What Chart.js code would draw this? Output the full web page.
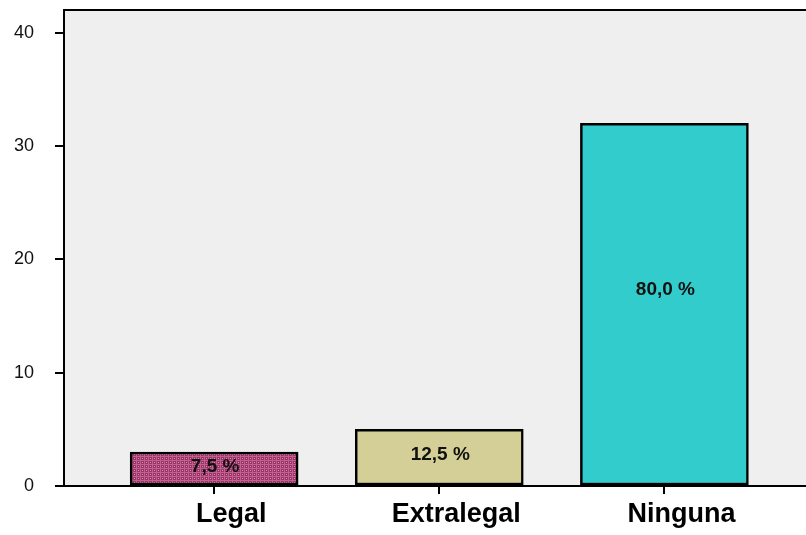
<!DOCTYPE html>
<html>
<head>
<meta charset="utf-8">
<script src="https://cdn.jsdelivr.net/npm/chart.js@4"></script>
<style>
  html, body { margin: 0; padding: 0; background: #ffffff; }
  #chart { display: block; }
</style>
</head>
<body>
<canvas id="chart" width="806" height="535"></canvas>
<script>
// Chart data
const categories = ['Legal', 'Extralegal', 'Ninguna'];
const counts = [3, 5, 32];
const percentLabels = ['7,5 %', '12,5 %', '80,0 %'];
const yTicks = [0, 10, 20, 30, 40];

// Legal bar uses a small checked pattern
function makePattern() {
    const c = document.createElement('canvas');
    c.width = 4;
    c.height = 4;
    const g = c.getContext('2d');
    g.fillStyle = '#9a3468';
    g.fillRect(0, 0, 4, 4);
    g.fillStyle = '#c0608f';
    g.fillRect(0, 0, 4, 1);
    g.fillRect(0, 0, 1, 4);
    g.fillStyle = '#d890b4';
    g.fillRect(2, 2, 1, 1);
    return g.createPattern(c, 'repeat');
}

const barColors = [makePattern(), '#d3cf96', '#33cccc'];

// Plot background and top frame line
const plotFrame = {
    id: 'plotFrame',
    beforeDraw(chart) {
        const { ctx, chartArea: a } = chart;
        ctx.save();
        ctx.fillStyle = '#efefef';
        ctx.fillRect(a.left, a.top, a.right - a.left, a.bottom - a.top);
        ctx.strokeStyle = '#000';
        ctx.lineWidth = 2;
        ctx.beginPath();
        ctx.moveTo(a.left - 1, a.top);
        ctx.lineTo(a.right, a.top);
        ctx.stroke();
        ctx.restore();
    }
};

// Percentage text inside each bar
const barText = {
    id: 'barText',
    afterDatasetsDraw(chart) {
        const { ctx } = chart;
        const meta = chart.getDatasetMeta(0);
        ctx.save();
        ctx.font = 'bold 19px "Liberation Sans", Arial, sans-serif';
        ctx.fillStyle = '#111';
        ctx.textAlign = 'center';
        ctx.textBaseline = 'middle';
        meta.data.forEach((bar, i) => {
            const y = bar.base - (bar.base - bar.y) * 0.54;
            ctx.fillText(percentLabels[i], bar.x + 1, y);
        });
        ctx.restore();
    }
};

// no automatic label padding around the axes
function noPad(s) {
    s.paddingTop = 0;
    s.paddingBottom = 0;
    s.paddingLeft = 0;
    s.paddingRight = 0;
}

const ctx = document.getElementById('chart').getContext('2d');

new Chart(ctx, {
    type: 'bar',
    data: {
        datasets: [{
            data: counts.map((c, i) => ({ x: i + 1, y: c })),
            backgroundColor: barColors,
            borderColor: '#000',
            borderWidth: 2.5,
            borderSkipped: false,
            barThickness: 168
        }]
    },
    options: {
        responsive: false,
        animation: false,
        devicePixelRatio: 1,
        layout: { autoPadding: false, padding: { top: 10, right: 0, left: 0, bottom: 0 } },
        plugins: {
            legend: { display: false },
            tooltip: { enabled: false }
        },
        scales: {
            x: {
                type: 'linear',
                offset: false,
                min: 0.333,
                max: 3.629,
                afterBuildTicks: (s) => { s.ticks = categories.map((c, i) => ({ value: i + 1 })); },
                afterFit: (s) => { s.height = 49; noPad(s); },
                grid: {
                    offset: false,
                    drawOnChartArea: false,
                    drawTicks: true,
                    tickLength: 8,
                    color: '#000',
                    lineWidth: 2
                },
                border: { display: true, color: '#000', width: 2 },
                ticks: {
                    autoSkip: false,
                    maxRotation: 0,
                    padding: 4,
                    labelOffset: 17,
                    color: '#000',
                    font: { family: '"Liberation Sans", Arial, sans-serif', size: 27, weight: 'bold' },
                    callback: (v) => categories[v - 1]
                }
            },
            y: {
                min: 0,
                max: 42,
                afterBuildTicks: (s) => { s.ticks = yTicks.map(v => ({ value: v })); },
                afterFit: (s) => { s.width = 64; noPad(s); },
                grid: {
                    drawOnChartArea: false,
                    drawTicks: true,
                    tickLength: 9,
                    color: '#000',
                    lineWidth: 2
                },
                border: { display: true, color: '#000', width: 2 },
                ticks: {
                    padding: 21,
                    color: '#111',
                    font: { family: '"Liberation Sans", Arial, sans-serif', size: 18 }
                }
            }
        }
    },
    plugins: [plotFrame, barText]
});
</script>
</body>
</html>
